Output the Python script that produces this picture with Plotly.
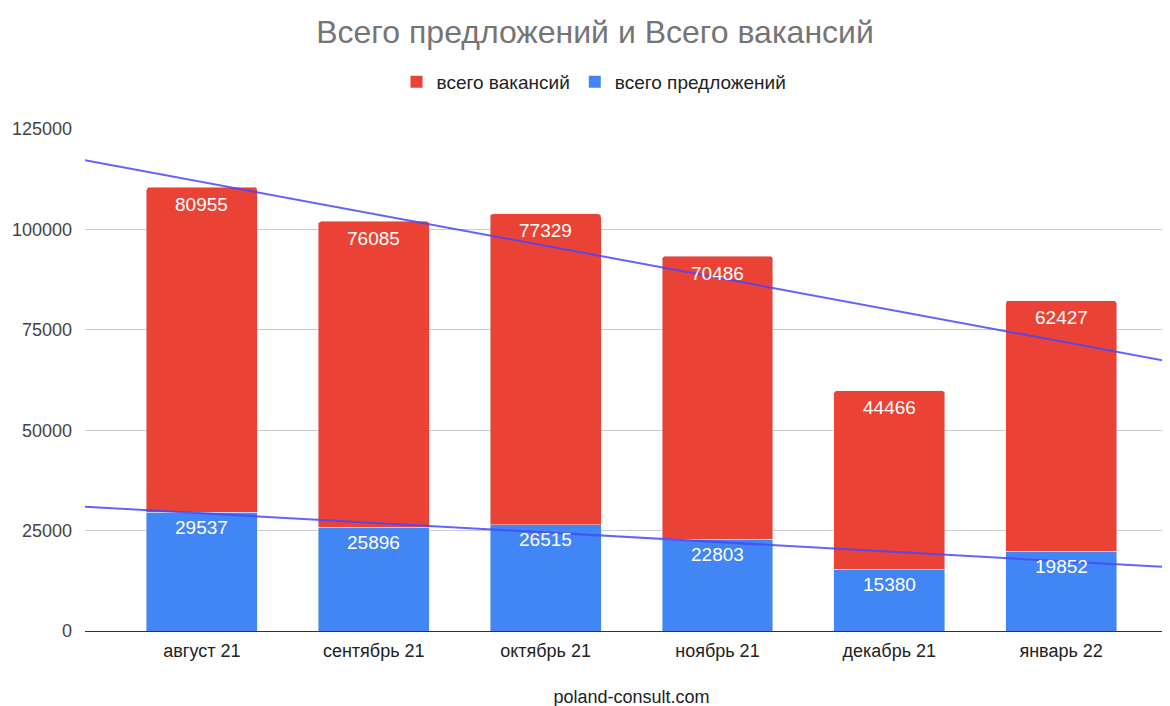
import plotly.graph_objects as go

categories = ["август 21", "сентябрь 21", "октябрь 21", "ноябрь 21", "декабрь 21", "январь 22"]
offers = [29537, 25896, 26515, 22803, 15380, 19852]        # всего предложений
vacancies = [80955, 76085, 77329, 70486, 44466, 62427]     # всего вакансий
y_ticks = [0, 25000, 50000, 75000, 100000, 125000]

# trend lines (ends at the plot edges)
trend_x = [-0.68, 5.68]
trend_total = [117200, 66700]
trend_offers = [30950, 15750]

xpos = list(range(len(categories)))
RED = "#EA4335"
BLUE = "#4285F4"
TREND = "rgba(70,70,255,0.85)"
FONT = "Liberation Sans, Arial, sans-serif"

fig = go.Figure()
fig.add_trace(go.Bar(x=xpos, y=offers, name="всего предложений", marker_color=BLUE,
                     showlegend=False))
fig.add_trace(go.Bar(x=xpos, y=vacancies, name="всего вакансий", marker_color=RED,
                     showlegend=False))
fig.add_trace(go.Scatter(x=trend_x, y=trend_total, mode="lines",
                         line=dict(color=TREND, width=2), showlegend=False, hoverinfo="skip"))
fig.add_trace(go.Scatter(x=trend_x, y=trend_offers, mode="lines",
                         line=dict(color=TREND, width=2), showlegend=False, hoverinfo="skip"))
# legend entries with square swatches
fig.add_trace(go.Scatter(x=[None], y=[None], mode="markers", name="всего вакансий",
                         marker=dict(symbol="square", size=15, color=RED)))
fig.add_trace(go.Scatter(x=[None], y=[None], mode="markers", name="всего предложений",
                         marker=dict(symbol="square", size=15, color=BLUE)))

# data labels inside the top of each segment
for i in xpos:
    fig.add_annotation(x=i, y=offers[i], text=str(offers[i]), showarrow=False,
                       yanchor="middle", yshift=-15,
                       font=dict(color="white", size=19, family=FONT))
    fig.add_annotation(x=i, y=offers[i] + vacancies[i], text=str(vacancies[i]), showarrow=False,
                       yanchor="middle", yshift=-17,
                       font=dict(color="white", size=19, family=FONT))

# page has an 8px body margin, so figure coordinates are page coordinates minus 8
fig.update_layout(
    width=1170, height=706,
    barmode="stack", bargap=0.355, barcornerradius=3,
    plot_bgcolor="white", paper_bgcolor="white",
    margin=dict(l=77, r=0, t=121, b=83),
    font=dict(family=FONT, color="#222222", size=18),
    title=dict(text="Всего предложений и Всего вакансий", x=(595 - 8) / 1170, xanchor="center",
               y=1 - (32 - 8) / 706, yanchor="middle",
               font=dict(size=32, color="#757575", family=FONT)),
    legend=dict(orientation="h", x=(594 - 85) / 1093, xanchor="center",
                y=1 + (129 - 82) / 502, yanchor="middle",
                font=dict(size=19, color="#222222"), traceorder="normal",
                itemsizing="constant"),
)
fig.update_xaxes(
    range=[trend_x[0], trend_x[1]], tickvals=xpos, ticktext=categories,
    showgrid=False, zeroline=False, showline=False, ticks="",
    tickfont=dict(size=18, color="#222222"), ticklabelstandoff=7,
    title=dict(text="poland-consult.com", font=dict(size=18, color="#222222"), standoff=30),
)
fig.update_yaxes(
    range=[0, 125000], tickvals=y_ticks, ticktext=[str(v) for v in y_ticks],
    showgrid=True, gridcolor="#cccccc", gridwidth=1,
    zeroline=True, zerolinecolor="#333333", zerolinewidth=1,
    tickfont=dict(size=18, color="#444444"), ticks="", ticklabelstandoff=12,
)

fig.write_html("out.html")
